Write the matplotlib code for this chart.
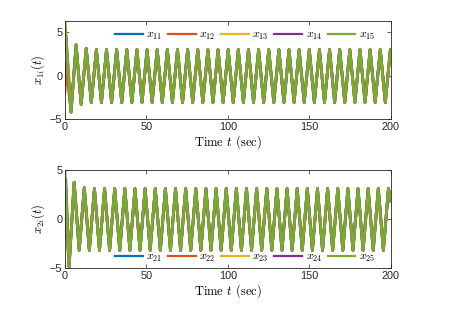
import matplotlib

matplotlib.use("Agg")
import matplotlib.pyplot as plt

plt.rcParams["font.family"] = ["Liberation Sans", "DejaVu Sans"]
plt.rcParams["mathtext.fontset"] = "cm"

# MATLAB default line colours
COLORS = ["#0072BD", "#D95319", "#EDB120", "#7E2F8E", "#77AC30"]

# ---- x1 panel: extrema of the common (synchronised) trajectory
T1 = [3.70, 6.81, 9.92, 13.03, 16.14, 19.25, 22.36, 25.47, 28.58, 31.69,
      34.80, 37.91, 41.02, 44.13, 47.24, 50.35, 53.46, 56.57, 59.68, 62.79,
      65.90, 69.01, 72.12, 75.23, 78.34, 81.45, 84.56, 87.67, 90.78, 93.89,
      97.00, 100.11, 103.22, 106.33, 109.44, 112.55, 115.66, 118.77, 121.88, 124.99,
      128.10, 131.21, 134.32, 137.43, 140.54, 143.65, 146.76, 149.87, 152.98, 156.09,
      159.20, 162.31, 165.42, 168.53, 171.64, 174.75, 177.86, 180.97, 184.08, 187.19,
      190.30, 193.41, 196.52, 199.63, 200.0]
X1 = [-4.2, 3.55, -3.3, 3.15] + [-3.1, 3.0] * 30 + [2.9]

# starting points of x11..x15 (t, value)
X1_START = [
    [(0.0, 0.5), (1.2, 1.6)],
    [(0.0, -1.9), (0.6, 1.2)],
    [(0.0, 3.0), (0.8, 3.4)],
    [(0.0, 4.6), (0.6, 4.6)],
    [(0.0, 6.34)],
]

# ---- x2 panel
T2 = [2.50, 5.61, 8.72, 11.83, 14.94, 18.05, 21.16, 24.27, 27.38, 30.49,
      33.60, 36.71, 39.82, 42.93, 46.04, 49.15, 52.26, 55.37, 58.48, 61.59,
      64.70, 67.81, 70.92, 74.03, 77.14, 80.25, 83.36, 86.47, 89.58, 92.69,
      95.80, 98.91, 102.02, 105.13, 108.24, 111.35, 114.46, 117.57, 120.68, 123.79,
      126.90, 130.01, 133.12, 136.23, 139.34, 142.45, 145.56, 148.67, 151.78, 154.89,
      158.00, 161.11, 164.22, 167.33, 170.44, 173.55, 176.66, 179.77, 182.88, 185.99,
      189.10, 192.21, 195.32, 198.43, 200.0]
X2 = [-4.9, 3.75, -3.2, 3.2] + [-3.2, 3.1] * 30 + [1.8]

X2_START = [
    [(0.0, 0.9), (0.8, 1.2)],
    [(0.0, -1.9), (0.5, 0.2)],
    [(0.0, 3.0), (0.6, 3.0)],
    [(0.0, 4.0), (0.5, 4.0)],
    [(0.0, 5.0)],
]

LABELS1 = [r"$x_{11}$", r"$x_{12}$", r"$x_{13}$", r"$x_{14}$", r"$x_{15}$"]
LABELS2 = [r"$x_{21}$", r"$x_{22}$", r"$x_{23}$", r"$x_{24}$", r"$x_{25}$"]


def draw_panel(ax, t_common, x_common, starts, labels, ylabel, ylim, leg_y):
    for start, color, label in zip(starts, COLORS, labels):
        ts = [p[0] for p in start] + t_common
        xs = [p[1] for p in start] + x_common
        ax.plot(ts, xs, color=color, linewidth=2.0, label=label)
    ax.set_xlim(0, 200)
    ax.set_ylim(*ylim)
    ax.set_xticks([0, 50, 100, 150, 200])
    ax.set_yticks([-5, 0, 5])
    ax.tick_params(direction="in", length=3, width=0.5, labelsize=7.8,
                   top=True, right=True, colors="#262626", pad=2)
    for sp in ax.spines.values():
        sp.set_linewidth(0.6)
        sp.set_color("#262626")
    ax.set_xlabel(r"Time $t$ (sec)", fontfamily="cmr10", fontsize=9, labelpad=1)
    ax.set_ylabel(ylabel, fontsize=9, labelpad=2)
    leg = ax.legend(loc="center", bbox_to_anchor=(0.553, leg_y), ncol=5,
                    frameon=False, fontsize=8.5, handlelength=2.35,
                    handletextpad=0.3, columnspacing=0.45, borderpad=0.1)
    for line in leg.get_lines():
        line.set_linewidth(1.6)


fig = plt.figure(figsize=(4.6, 3.13), dpi=100)
ax1 = fig.add_axes([0.1413, 0.6198, 0.7087, 0.3141])
ax2 = fig.add_axes([0.1413, 0.1438, 0.7087, 0.3131])

draw_panel(ax1, T1, X1, X1_START, LABELS1, r"$x_{1i}(t)$", (-5, 6.34), 0.85)
draw_panel(ax2, T2, X2, X2_START, LABELS2, r"$x_{2i}(t)$", (-5, 5), 0.11)

fig.savefig("out.png", dpi=100)
